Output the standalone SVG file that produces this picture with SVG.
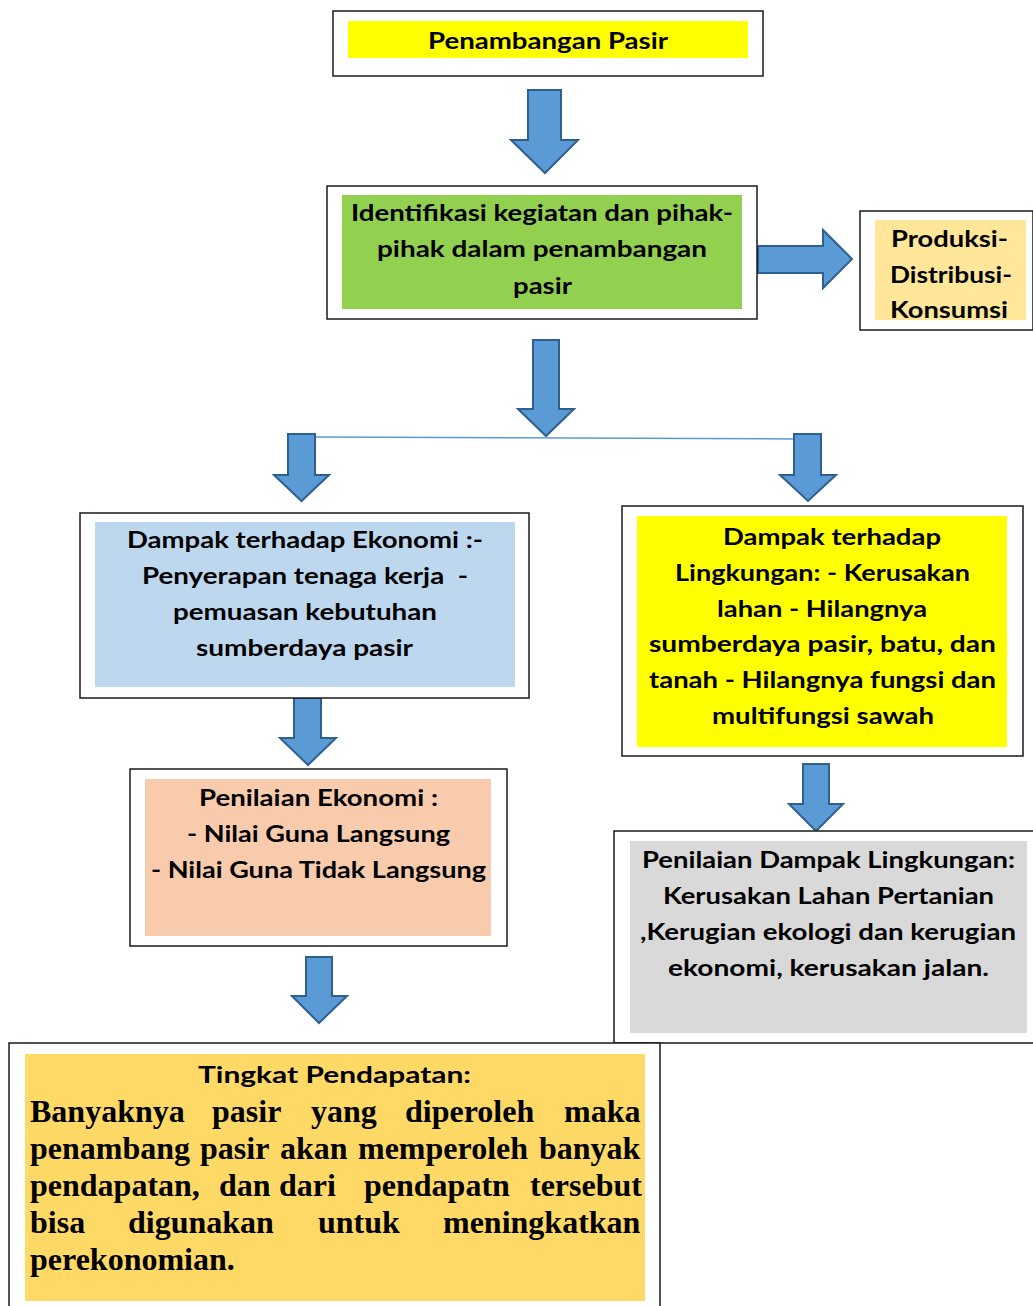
<svg xmlns="http://www.w3.org/2000/svg" width="1033" height="1306" viewBox="0 0 1033 1306">
<style>
.frame{fill:#ffffff;stroke:#1a1a1a;stroke-width:1.5}
.c{font-family:Lato,"Open Sans","DejaVu Sans",sans-serif;font-weight:bold;font-size:23px;fill:#000;text-anchor:middle}
.t{font-family:"Liberation Serif","Times New Roman",serif;font-weight:bold;font-size:32px;fill:#000}
.arrow{fill:#5B9BD5;stroke:#2F5F8F;stroke-width:2;stroke-linejoin:miter}
</style>
<rect width="1033" height="1306" fill="#ffffff"/>

<g id="connectors">
  <polygon class="arrow" points="528,90 561,90 561,140 578,140 545,173 511,140 528,140"/>
  <polygon class="arrow" points="758,246 823,246 823,230 852,259 823,288 823,273 758,273"/>
  <polygon class="arrow" points="533,340 559,340 559,409 574,409 546,436 518,409 533,409"/>
  <line x1="316" y1="437" x2="794" y2="439" stroke="#5B9BD5" stroke-width="1.5"/>
  <polygon class="arrow" points="288,434 315,434 315,475 329,475 301.5,501 274,475 288,475"/>
  <polygon class="arrow" points="794,434 821,434 821,475 836,475 808,501 780,475 794,475"/>
  <polygon class="arrow" points="294,698 321,698 321,738 336,738 308,765 280,738 294,738"/>
  <polygon class="arrow" points="803,764 829,764 829,804 843,804 816,831 789,804 803,804"/>
  <polygon class="arrow" points="306,957 332,957 332,996 347,996 319,1023 292,996 306,996"/>
</g>

<g id="node-penambangan">
  <rect class="frame" x="333" y="11" width="430" height="65"/>
  <rect x="348" y="21" width="400" height="37" fill="#FFFF00"/>
  <text class="c" x="548" y="49" font-size="25" textLength="240" lengthAdjust="spacingAndGlyphs">Penambangan Pasir</text>
</g>

<g id="node-identifikasi">
  <rect class="frame" x="327" y="186" width="430" height="133"/>
  <rect x="342" y="195" width="400" height="114" fill="#92D050"/>
  <text class="c" x="542" y="221" textLength="382" lengthAdjust="spacingAndGlyphs">Identifikasi kegiatan dan pihak-</text>
  <text class="c" x="542" y="257" textLength="330" lengthAdjust="spacingAndGlyphs">pihak dalam penambangan</text>
  <text class="c" x="542.5" y="294" textLength="59" lengthAdjust="spacingAndGlyphs">pasir</text>
</g>

<g id="node-produksi">
  <rect class="frame" x="860" y="211" width="173" height="119"/>
  <rect x="875" y="220" width="151" height="100" fill="#FFE699"/>
  <text class="c" x="949.5" y="247" textLength="117" lengthAdjust="spacingAndGlyphs">Produksi-</text>
  <text class="c" x="951" y="283" textLength="122" lengthAdjust="spacingAndGlyphs">Distribusi-</text>
  <text class="c" x="949" y="318" textLength="118" lengthAdjust="spacingAndGlyphs">Konsumsi</text>
</g>

<g id="node-dampak-ekonomi">
  <rect class="frame" x="80" y="513" width="449" height="185"/>
  <rect x="95" y="522" width="420" height="165" fill="#BDD7EE"/>
  <text class="c" x="305" y="548" textLength="356" lengthAdjust="spacingAndGlyphs">Dampak terhadap Ekonomi :-</text>
  <text class="c" x="305" y="584" textLength="326" lengthAdjust="spacingAndGlyphs" xml:space="preserve">Penyerapan tenaga kerja  -</text>
  <text class="c" x="305" y="620" textLength="264" lengthAdjust="spacingAndGlyphs">pemuasan kebutuhan</text>
  <text class="c" x="304.5" y="656" textLength="217" lengthAdjust="spacingAndGlyphs">sumberdaya pasir</text>
</g>

<g id="node-dampak-lingkungan">
  <rect class="frame" x="622" y="506" width="401" height="250"/>
  <rect x="637" y="516" width="370" height="231" fill="#FFFF00"/>
  <text class="c" x="832" y="545" textLength="218" lengthAdjust="spacingAndGlyphs">Dampak terhadap</text>
  <text class="c" x="822.5" y="581" textLength="295" lengthAdjust="spacingAndGlyphs">Lingkungan: - Kerusakan</text>
  <text class="c" x="822" y="617" textLength="210" lengthAdjust="spacingAndGlyphs">lahan - Hilangnya</text>
  <text class="c" x="822.5" y="652" textLength="347" lengthAdjust="spacingAndGlyphs">sumberdaya pasir, batu, dan</text>
  <text class="c" x="822.5" y="688" textLength="347" lengthAdjust="spacingAndGlyphs">tanah - Hilangnya fungsi dan</text>
  <text class="c" x="823" y="724" textLength="222" lengthAdjust="spacingAndGlyphs">multifungsi sawah</text>
</g>

<g id="node-penilaian-ekonomi">
  <rect class="frame" x="130" y="769" width="377" height="177"/>
  <rect x="145" y="779" width="346" height="157" fill="#F8CBAD"/>
  <text class="c" x="318.5" y="806" textLength="239" lengthAdjust="spacingAndGlyphs">Penilaian Ekonomi :</text>
  <text class="c" x="318.5" y="842" textLength="263" lengthAdjust="spacingAndGlyphs">- Nilai Guna Langsung</text>
  <text class="c" x="318.5" y="878" textLength="335" lengthAdjust="spacingAndGlyphs">- Nilai Guna Tidak Langsung</text>
</g>

<g id="node-penilaian-lingkungan">
  <rect class="frame" x="614" y="831" width="420" height="212"/>
  <rect x="630" y="841" width="397" height="192" fill="#D9D9D9"/>
  <text class="c" x="828.5" y="868" textLength="373" lengthAdjust="spacingAndGlyphs">Penilaian Dampak Lingkungan:</text>
  <text class="c" x="828.5" y="904" textLength="331" lengthAdjust="spacingAndGlyphs">Kerusakan Lahan Pertanian</text>
  <text class="c" x="828" y="940" textLength="376" lengthAdjust="spacingAndGlyphs">,Kerugian ekologi dan kerugian</text>
  <text class="c" x="828.5" y="976" textLength="321" lengthAdjust="spacingAndGlyphs">ekonomi, kerusakan jalan.</text>
</g>

<g id="node-tingkat-pendapatan">
  <rect class="frame" x="9" y="1043" width="651" height="270"/>
  <rect x="25" y="1054" width="620" height="247" fill="#FFD966"/>
  <text class="c" x="334.5" y="1083" textLength="273" lengthAdjust="spacingAndGlyphs">Tingkat Pendapatan:</text>
  <text class="t" y="1122"><tspan x="30">Banyaknya</tspan><tspan x="212">pasir</tspan><tspan x="311">yang</tspan><tspan x="405">diperoleh</tspan><tspan x="564">maka</tspan></text>
  <text class="t" y="1159"><tspan x="30">penambang</tspan><tspan x="200">pasir</tspan><tspan x="280">akan</tspan><tspan x="358">memperoleh</tspan><tspan x="539">banyak</tspan></text>
  <text class="t" y="1196"><tspan x="30">pendapatan,</tspan><tspan x="219">dan</tspan><tspan x="279">dari</tspan><tspan x="364">pendapatn</tspan><tspan x="530">tersebut</tspan></text>
  <text class="t" y="1233"><tspan x="30">bisa</tspan><tspan x="128">digunakan</tspan><tspan x="318">untuk</tspan><tspan x="443">meningkatkan</tspan></text>
  <text class="t" y="1270"><tspan x="30">perekonomian.</tspan></text>
</g>
</svg>
